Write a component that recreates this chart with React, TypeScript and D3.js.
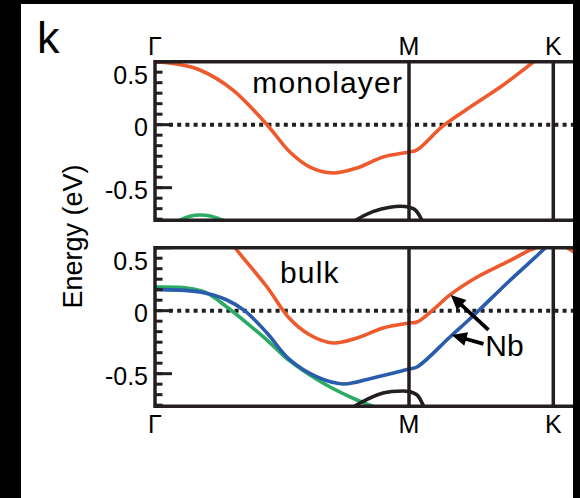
import * as d3 from "d3";

const W = 580;
const H = 498;
const FONT = "'Liberation Sans', Arial, Helvetica, sans-serif";
const INK = "#231f20";
const ORANGE = "#ef5a2d";
const BLUE = "#2a5cad";
const GREEN = "#2bab63";

// high-symmetry points along the path (|ΓM| = 1, |MK| = 1/sqrt(3))
const kNames = ["Γ", "M", "K"];
const kPos = [0, 1, 1.57735];

// energy axis
const eRange = [-0.759, 0.5];
const eMajor = [0.5, 0, -0.5];
const eMajorLabels = ["0.5", "0", "-0.5"];
const eMinorStep = 1 / 12;

// monolayer bands [k, E]
const monoOrange = [
  [-0.05, 0.5], [0, 0.5], [0.09, 0.48], [0.177, 0.434], [0.307, 0.275], [0.445, -0.01],
  [0.531, -0.217], [0.61, -0.336], [0.701, -0.383], [0.795, -0.344], [0.898, -0.256],
  [1, -0.217], [1.032, -0.2], [1.136, -0.01], [1.257, 0.156], [1.377, 0.315], [1.493, 0.49], [1.53, 0.55],
];
const monoGreen = [
  [0.02, -0.85], [0.059, -0.8], [0.098, -0.757], [0.138, -0.727], [0.177, -0.717],
  [0.217, -0.725], [0.268, -0.76], [0.315, -0.82],
];
const monoBlack = [
  [0.748, -0.82], [0.78, -0.77], [0.858, -0.69], [0.925, -0.655], [0.984, -0.65],
  [1.024, -0.675], [1.052, -0.76], [1.064, -0.82],
];

// bulk bands [k, E]
const bulkGreen = [
  [-0.05, 0.188], [0, 0.188], [0.126, 0.18], [0.205, 0.14], [0.283, 0.029], [0.362, -0.098],
  [0.441, -0.233], [0.528, -0.395], [0.661, -0.574], [0.795, -0.709], [0.866, -0.764], [0.925, -0.81],
];
const bulkBlue = [
  [-0.05, 0.168], [0, 0.168], [0.177, 0.148], [0.283, 0.085], [0.354, -0.002], [0.441, -0.177],
  [0.528, -0.385], [0.638, -0.526], [0.74, -0.582], [0.858, -0.534], [1, -0.463], [1.032, -0.447],
  [1.164, -0.209], [1.273, -0.01], [1.393, 0.22], [1.485, 0.387], [1.553, 0.513], [1.58, 0.56],
];
const bulkOrange = [
  [0.295, 0.56], [0.323, 0.48], [0.441, 0.188], [0.528, -0.058], [0.61, -0.193], [0.701, -0.256],
  [0.795, -0.217], [0.898, -0.137], [1, -0.098], [1.032, -0.09], [1.096, 0.006], [1.164, 0.125],
  [1.273, 0.267], [1.393, 0.387], [1.485, 0.482], [1.517, 0.506], [1.577, 0.58], [1.633, 0.5],
  [1.658, 0.468], [1.686, 0.43],
];
const bulkBlack = [
  [0.764, -0.79], [0.807, -0.733], [0.898, -0.653], [0.976, -0.637], [1, -0.641],
  [1.032, -0.669], [1.056, -0.748], [1.068, -0.8],
];

// "Nb" arrows in the bulk panel: [tailK, tailE, tipK, tipE]
const nbArrows = [
  [1.318, -0.153, 1.167, 0.125],
  [1.298, -0.264, 1.171, -0.193],
];

const x = d3.scaleLinear().domain(kPos).range([155, 409, 553.3]);
const panels = [
  { id: "mono", top: 61.7, bottom: 220.3, label: "monolayer", labelAt: [0.383, 0.249], bands: [[monoGreen, GREEN], [monoBlack, INK], [monoOrange, ORANGE]] },
  { id: "bulk", top: 247.7, bottom: 406.3, label: "bulk", labelAt: [0.492, 0.22], bands: [[bulkGreen, GREEN], [bulkBlue, BLUE], [bulkBlack, INK], [bulkOrange, ORANGE]] },
];
const xLeft = 155;
const xRight = 580;

function Arrow({ x1, y1, x2, y2 }) {
  const dx = x2 - x1, dy = y2 - y1;
  const len = Math.hypot(dx, dy);
  const ux = dx / len, uy = dy / len;
  const head = 15, half = 7;
  const bx = x2 - ux * head, by = y2 - uy * head;
  const pts = [[x2, y2], [bx - uy * half, by + ux * half], [bx + uy * half, by - ux * half]];
  return (
    <g>
      <line x1={x1} y1={y1} x2={bx + ux * 2} y2={by + uy * 2} stroke="#000" strokeWidth={3.8} />
      <polygon points={pts.map((p) => p.join(",")).join(" ")} fill="#000" />
    </g>
  );
}

export default function App() {
  return (
    <svg width={W} height={H} style={{ position: "absolute", left: 0, top: 0, display: "block" }} fontFamily={FONT}>
      <rect width={W} height={H} fill="#000" />
      <rect x={21} y={4} width={552} height={H - 4} fill="#fff" />
      <defs>
        {panels.map((p) => (
          <clipPath id={`clip-${p.id}`} key={p.id}>
            <rect x={xLeft} y={p.top} width={xRight - xLeft} height={p.bottom - p.top} />
          </clipPath>
        ))}
      </defs>

      {panels.map((p) => {
        const y = d3.scaleLinear().domain(eRange).range([p.bottom, p.top]);
        const line = d3.line().x((d) => x(d[0])).y((d) => y(d[1])).curve(d3.curveCatmullRom.alpha(0.5));
        const minor = d3.range(Math.ceil(eRange[0] / eMinorStep), Math.floor(eRange[1] / eMinorStep) + 1).map((i) => i * eMinorStep);
        return (
          <g key={p.id}>
            <line x1={xLeft + 14} x2={xRight} y1={y(0)} y2={y(0)} stroke={INK} strokeWidth={4} strokeDasharray="4 4.2" />
            <g clipPath={`url(#clip-${p.id})`}>
              {p.bands.map(([data, color], i) => (
                <path key={i} d={line(data)} fill="none" stroke={color} strokeWidth={3.6} strokeLinejoin="round" />
              ))}
            </g>
            {/* ticks */}
            {minor.map((v, i) => (
              <line key={i} x1={xLeft} x2={xLeft + 7.5} y1={y(v)} y2={y(v)} stroke={INK} strokeWidth={3} />
            ))}
            {eMajor.map((v, i) => (
              <line key={i} x1={xLeft} x2={xLeft + 17} y1={y(v)} y2={y(v)} stroke={INK} strokeWidth={3} />
            ))}
            {eMajor.map((v, i) => (
              <text key={i} x={148} y={Math.max(y(v) + 2, p.top + 13) + 9} textAnchor="end" fontSize={25} fill="#000">
                {eMajorLabels[i]}
              </text>
            ))}
            {/* frame */}
            <line x1={xLeft} x2={xRight} y1={p.top} y2={p.top} stroke={INK} strokeWidth={3.5} />
            <line x1={xLeft} x2={xRight} y1={p.bottom} y2={p.bottom} stroke={INK} strokeWidth={3.5} />
            {kPos.map((k, i) => (
              <line key={i} x1={x(k)} x2={x(k)} y1={p.top - 1.7} y2={p.bottom + 1.7} stroke={INK} strokeWidth={3.5} />
            ))}
            <text x={x(p.labelAt[0])} y={y(p.labelAt[1])} fontSize={30} letterSpacing={1.2} fill="#000">{p.label}</text>
          </g>
        );
      })}

      {/* arrows + Nb label in bulk panel */}
      {(() => {
        const p = panels[1];
        const y = d3.scaleLinear().domain(eRange).range([p.bottom, p.top]);
        return (
          <g>
            {nbArrows.map((a, i) => (
              <Arrow key={i} x1={x(a[0])} y1={y(a[1])} x2={x(a[2])} y2={y(a[3])} />
            ))}
            <text x={x(1.305)} y={y(-0.36)} fontSize={30} fill="#000">Nb</text>
          </g>
        );
      })()}

      {/* high-symmetry labels */}
      {kNames.map((n, i) => (
        <text key={"t" + i} x={x(kPos[i])} y={55} textAnchor="middle" fontSize={25} fill="#000">{n}</text>
      ))}
      {kNames.map((n, i) => (
        <text key={"b" + i} x={x(kPos[i])} y={433} textAnchor="middle" fontSize={25} fill="#000">{n}</text>
      ))}

      <text x={37} y={53} fontSize={45} fill="#000">k</text>
      <text transform="translate(82,236.5) rotate(-90)" textAnchor="middle" fontSize={27} fill="#000">Energy (eV)</text>

      {/* right black border drawn last to trim frames */}
      <rect x={573} y={0} width={W - 573} height={H} fill="#000" />
    </svg>
  );
}
